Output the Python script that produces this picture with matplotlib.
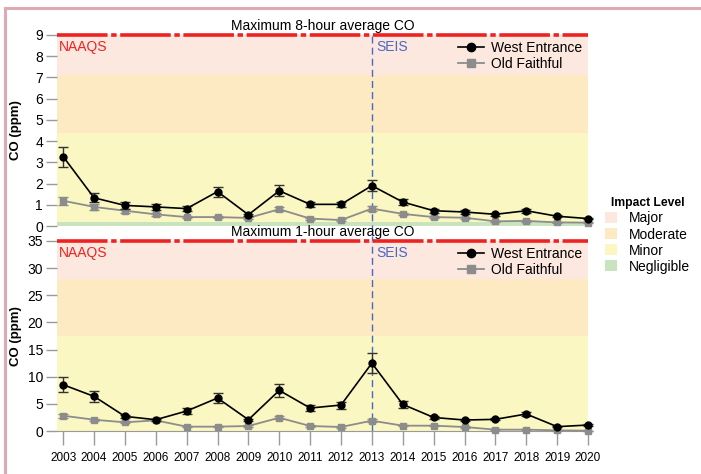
import numpy as np
import matplotlib.pyplot as plt
from matplotlib.patches import Patch
from matplotlib.lines import Line2D

# narrow face for all text, regular face as fallback
plt.rcParams['font.family'] = ['Liberation Sans Narrow', 'Liberation Sans',
                               'DejaVu Sans']

years = np.arange(2003, 2021)

# maximum 8-hour average CO (ppm)
we_8h = [3.27, 1.33, 0.97, 0.90, 0.82, 1.62, 0.53, 1.66, 1.02, 1.02,
         1.90, 1.13, 0.72, 0.66, 0.55, 0.72, 0.46, 0.35]
we_8h_err = [0.47, 0.22, 0.15, 0.15, 0.10, 0.23, 0.05, 0.26, 0.13, 0.13,
             0.27, 0.15, 0.10, 0.10, 0.07, 0.10, 0.05, 0.03]
of_8h = [1.19, 0.90, 0.72, 0.55, 0.42, 0.42, 0.38, 0.79, 0.35, 0.28,
         0.82, 0.57, 0.42, 0.39, 0.22, 0.24, 0.17, 0.16]
of_8h_err = [0.19, 0.15, 0.10, 0.08, 0.06, 0.05, 0.05, 0.10, 0.05, 0.05,
             0.12, 0.06, 0.05, 0.05, 0.03, 0.03, 0.02, 0.02]

# maximum 1-hour average CO (ppm)
we_1h = [8.52, 6.38, 2.70, 2.08, 3.68, 6.07, 2.08, 7.48, 4.23, 4.78,
         12.5, 4.90, 2.50, 2.02, 2.15, 3.13, 0.80, 1.10]
we_1h_err = [1.35, 1.04, 0.30, 0.20, 0.50, 0.92, 0.20, 1.15, 0.60, 0.65,
             1.84, 0.70, 0.25, 0.20, 0.20, 0.35, 0.10, 0.10]
of_1h = [2.82, 2.08, 1.60, 1.96, 0.80, 0.80, 0.92, 2.45, 0.92, 0.74,
         1.90, 0.98, 0.98, 0.74, 0.25, 0.25, 0.12, 0.06]
of_1h_err = [0.35, 0.20, 0.20, 0.20, 0.10, 0.10, 0.10, 0.30, 0.10, 0.10,
             0.25, 0.10, 0.10, 0.10, 0.05, 0.05, 0.03, 0.03]

# impact level bands (lower, upper) for each panel
levels = ['Major', 'Moderate', 'Minor', 'Negligible']
level_colors = ['#fce8df', '#fde9c2', '#faf7c3', '#c8e4bf']
bands_8h = [(7.1, 9), (4.4, 7.1), (0.18, 4.4), (0, 0.18)]
bands_1h = [(28, 35), (17.5, 28), (0, 17.5), (0, 0)]
naaqs_8h = 9
naaqs_1h = 35
seis_year = 2013

fs = 10
fig = plt.figure(figsize=(7.01, 4.74), dpi=100)
ax1 = fig.add_axes([0.0813, 0.5232, 0.7575, 0.4030])
ax2 = fig.add_axes([0.0813, 0.0907, 0.7575, 0.4009])

# pink frame along top and left edge
fig.add_artist(Line2D([0.007, 1.0], [0.983, 0.983], transform=fig.transFigure,
                      color='#dcaab0', lw=2.2))
fig.add_artist(Line2D([0.007, 0.007], [0.0, 0.983], transform=fig.transFigure,
                      color='#dcaab0', lw=2.2))

grey = '#8c8c8c'
axis_grey = '#9a9a9a'

series_handles = [
    Line2D([], [], color='black', marker='o', ms=6, lw=1.2),
    Line2D([], [], color=grey, marker='s', ms=6, lw=1.3),
]
series_labels = ['West Entrance', 'Old Faithful']


def draw_panel(ax, we, we_err, of, of_err, bands, naaqs, title, ticks):
    for (lo, hi), c in zip(bands, level_colors):
        if hi > lo:
            ax.axhspan(lo, hi, color=c, lw=0, zorder=0)
    ax.axhline(naaqs, color='#ee2222', lw=2.6, zorder=3, clip_on=False,
               linestyle=(0, (14, 1, 1.5, 1)))
    ax.text(2002.85, naaqs * 0.975, 'NAAQS', color='#ee2222', fontsize=fs,
            ha='left', va='top')
    ax.text(seis_year + 0.15, naaqs * 0.975, 'SEIS', color='#4a68c8',
            fontsize=fs, ha='left', va='top')
    ax.errorbar(years, of, yerr=of_err, color=grey, marker='s', ms=5,
                lw=1.3, capsize=3.5, elinewidth=1, zorder=4, clip_on=False)
    ax.errorbar(years, we, yerr=we_err, color='black', marker='o', ms=5,
                lw=1.2, capsize=3.5, elinewidth=1, ecolor='#333333',
                zorder=5, clip_on=False)
    ax.set_xlim(2002.8, 2020)
    ax.set_ylim(0, naaqs)
    ax.set_yticks(ticks)
    for s in ['top', 'right', 'left', 'bottom']:
        ax.spines[s].set_visible(False)
    ax.tick_params(axis='y', colors=axis_grey, labelcolor='black',
                   labelsize=fs, length=8, width=1, pad=2)
    ax.set_ylabel('CO (ppm)', fontsize=9.5, fontweight='bold',
                  family=['Liberation Sans', 'DejaVu Sans'])
    ax.yaxis.set_label_coords(-0.066, 0.5)
    ax.text(0.5, 1.01, title, transform=ax.transAxes, ha='center',
            va='bottom', fontsize=fs)
    ax.legend(series_handles, series_labels, loc='upper right',
              frameon=False, fontsize=fs, handlelength=1.9,
              borderaxespad=0.1, borderpad=0.3, labelspacing=0.2,
              handletextpad=0.5)


draw_panel(ax1, we_8h, we_8h_err, of_8h, of_8h_err, bands_8h, naaqs_8h,
           'Maximum 8-hour average CO', np.arange(0, 10, 1))
draw_panel(ax2, we_1h, we_1h_err, of_1h, of_1h_err, bands_1h, naaqs_1h,
           'Maximum 1-hour average CO', np.arange(0, 40, 5))

ax1.set_xticks([])
ax2.set_xticks(years)
ax2.set_xticklabels([str(y) for y in years], fontsize=8.5)
ax2.spines['bottom'].set_visible(True)
ax2.spines['bottom'].set_color(axis_grey)
ax2.tick_params(axis='x', colors=axis_grey, labelcolor='black', length=10,
                width=1, pad=5)

# SEIS marker crossing both panels
ax1.axvline(seis_year, ymin=-0.09, ymax=1, color='#4a68c8', lw=1,
            linestyle=(0, (5, 3)), clip_on=False, zorder=2)
ax2.axvline(seis_year, color='#4a68c8', lw=1, linestyle=(0, (5, 3)), zorder=2)

handles = [Patch(facecolor=c, edgecolor='none') for c in level_colors]
leg = fig.legend(handles, levels, title='Impact Level', loc='center left',
                 bbox_to_anchor=(0.845, 0.503), frameon=False, fontsize=fs,
                 handlelength=0.85, handleheight=0.85, labelspacing=0.15,
                 handletextpad=0.9)
leg.get_title().set_fontweight('bold')
leg.get_title().set_fontsize(8.7)

fig.savefig('out.png', dpi=100)
